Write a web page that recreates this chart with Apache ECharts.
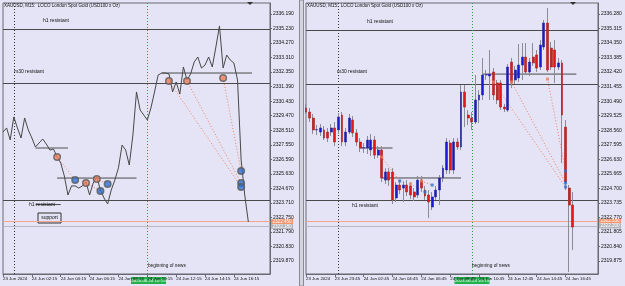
<!DOCTYPE html>
<html>
<head>
<meta charset="utf-8">
<script src="https://cdn.jsdelivr.net/npm/echarts@6/dist/echarts.min.js"></script>
<style>
  html, body { margin: 0; padding: 0; background: #e4e4f6; }
  #chart { width: 625px; height: 286px; }
</style>
</head>
<body>
<div id="chart"></div>
<script>
// Two MT4 screenshots of XAUUSD M15 side by side: close line (left), candles (right).

// ---- left panel: close line, one value per M15 bar ----
const LEFT_CLOSE = [
  2328.39, 2328.66, 2327.87, 2329.39, 2328.66, 2328.00, 2329.32, 2328.53, 2328.00, 2327.40,
  2327.67, 2327.93, 2327.60, 2327.20, 2327.27, 2326.74, 2326.35, 2325.49, 2324.23, 2324.83,
  2324.83, 2324.69, 2324.83, 2325.09, 2324.23, 2325.02, 2325.42, 2324.56, 2324.03, 2323.64,
  2324.56, 2325.22, 2326.02, 2327.53, 2327.20, 2326.21, 2328.20, 2331.04, 2329.85, 2329.52,
  2329.19, 2329.98, 2331.04, 2332.16, 2332.29, 2332.29, 2332.23, 2331.04, 2331.70, 2330.90,
  2332.69, 2331.83, 2332.23, 2333.02, 2333.35, 2332.62, 2332.82, 2333.35, 2332.69, 2334.01,
  2335.40, 2332.62, 2333.48, 2333.15, 2332.95, 2331.83, 2326.54, 2324.23, 2322.45,
];
const LEFT_BARS = 75;
const LEFT_PRICE_TICKS = [
  2319.870, 2320.830, 2321.790, 2322.750, 2323.710, 2324.670, 2325.630, 2326.590, 2327.550,
  2328.510, 2329.470, 2330.430, 2331.390, 2332.350, 2333.310, 2334.270, 2335.230, 2336.190,
];
const LEFT_TIME_LABELS = [
  [0, '23 Jun 2024'], [8, '24 Jun 02:15'], [16, '24 Jun 04:15'], [24, '24 Jun 06:15'],
  [32, '24 Jun 08:15'], [40, '24 Jun 10:15'], [48, '24 Jun 12:15'], [56, '24 Jun 14:15'],
  [64, '24 Jun 16:15'],
];
const LEFT_ORANGE = [[15, 2326.74], [23, 2325.02], [26, 2325.29], [46, 2331.76], [51, 2331.76], [61, 2331.96]];
const LEFT_BLUE = [[20, 2325.22], [27, 2324.50], [29, 2324.96], [66, 2325.82], [66, 2325.02], [66, 2324.76]];
const LEFT_SIGNAL_LINKS = [
  [[15, 2326.74], [20, 2325.22]], [[23, 2325.02], [27, 2324.50]], [[26, 2325.29], [29, 2324.96]],
  [[46, 2331.76], [66, 2324.76]], [[51, 2331.76], [66, 2325.02]], [[61, 2331.96], [66, 2325.82]],
];
const LEFT_FULL_LEVELS = [2335.20, 2331.63, 2323.90];
const LEFT_SEGMENTS = [[44, 69, 2332.29], [15, 37, 2325.35], [9, 16, 2323.60]];
const LEFT_SOFT_SEGMENT = [9, 18, 2327.34];
const LEFT_BID = 2322.48, LEFT_ASK = 2322.18;

// ---- right panel: candles [open, close, low, high] ----
const RIGHT_OHLC = [
  [2330.04, 2329.77, 2329.64, 2330.30], [2329.77, 2329.37, 2329.11, 2330.04],
  [2329.37, 2328.58, 2328.31, 2329.64], [2328.58, 2328.60, 2328.24, 2328.91],
  [2328.44, 2328.71, 2328.18, 2328.97], [2328.58, 2328.04, 2327.91, 2328.84],
  [2328.44, 2328.04, 2327.78, 2328.71], [2328.44, 2328.71, 2328.18, 2328.97],
  [2328.71, 2327.78, 2327.51, 2329.11], [2328.58, 2329.44, 2328.31, 2329.70],
  [2329.57, 2327.78, 2327.51, 2329.77], [2327.78, 2328.44, 2327.51, 2328.71],
  [2328.44, 2329.37, 2328.31, 2329.64], [2329.24, 2328.38, 2328.11, 2329.51],
  [2328.38, 2327.78, 2327.51, 2328.64], [2327.78, 2327.38, 2327.11, 2328.04],
  [2327.38, 2327.40, 2327.05, 2327.71], [2327.38, 2327.91, 2326.98, 2328.18],
  [2327.25, 2327.91, 2326.85, 2328.31], [2327.91, 2326.91, 2326.65, 2328.18],
  [2326.91, 2327.25, 2326.72, 2327.51], [2327.25, 2325.39, 2325.12, 2327.51],
  [2325.25, 2325.79, 2324.99, 2326.05], [2325.79, 2325.25, 2324.86, 2326.05],
  [2325.79, 2323.93, 2323.66, 2326.05], [2324.06, 2324.92, 2323.79, 2325.12],
  [2324.92, 2324.59, 2324.32, 2325.25], [2324.72, 2324.92, 2323.79, 2325.18],
  [2324.92, 2324.46, 2324.19, 2325.25], [2324.86, 2324.26, 2323.99, 2325.12],
  [2324.46, 2324.13, 2323.86, 2324.72], [2324.26, 2325.25, 2324.06, 2325.52],
  [2325.25, 2324.72, 2324.46, 2325.52], [2324.59, 2324.19, 2323.93, 2324.86],
  [2324.26, 2323.79, 2322.73, 2324.59], [2323.46, 2324.13, 2323.26, 2324.46],
  [2324.13, 2324.59, 2323.93, 2324.86], [2324.59, 2325.39, 2323.59, 2325.59],
  [2325.39, 2326.05, 2325.12, 2326.25], [2325.92, 2327.78, 2325.65, 2328.04],
  [2327.71, 2325.92, 2325.65, 2327.91], [2325.92, 2327.78, 2325.65, 2328.04],
  [2327.78, 2327.45, 2327.25, 2328.04], [2327.45, 2331.10, 2327.25, 2331.56],
  [2331.10, 2330.10, 2328.77, 2331.56], [2329.57, 2329.37, 2328.91, 2329.90],
  [2329.37, 2329.11, 2328.58, 2329.77], [2329.11, 2330.57, 2328.97, 2332.23],
  [2330.57, 2330.90, 2329.04, 2331.23], [2330.90, 2332.23, 2330.57, 2333.36],
  [2332.23, 2332.25, 2331.90, 2332.56], [2332.16, 2332.29, 2330.57, 2333.89],
  [2332.43, 2330.90, 2330.57, 2332.69], [2331.70, 2330.57, 2330.30, 2331.90],
  [2331.70, 2330.10, 2329.90, 2331.90], [2330.10, 2329.97, 2329.77, 2330.30],
  [2329.90, 2332.76, 2329.77, 2332.96], [2333.09, 2331.70, 2331.36, 2333.36],
  [2331.90, 2332.56, 2331.63, 2332.83], [2332.03, 2332.89, 2331.76, 2334.29],
  [2332.89, 2333.42, 2331.90, 2334.35], [2333.42, 2332.43, 2332.29, 2334.35],
  [2332.43, 2333.09, 2332.16, 2333.36], [2333.42, 2333.03, 2332.83, 2334.35],
  [2333.56, 2332.69, 2332.43, 2333.89], [2332.76, 2334.22, 2332.56, 2334.55],
  [2334.09, 2335.68, 2333.89, 2335.88], [2335.68, 2332.56, 2332.43, 2336.68],
  [2334.02, 2332.76, 2332.56, 2334.42], [2333.89, 2332.76, 2331.70, 2334.55],
  [2332.76, 2333.03, 2332.56, 2333.36], [2333.03, 2329.57, 2326.38, 2333.22],
  [2328.77, 2325.12, 2324.59, 2329.24], [2324.72, 2323.59, 2319.14, 2324.92],
  [2323.59, 2322.13, 2320.60, 2324.46],
];
const RIGHT_BARS = 82;
const RIGHT_PRICE_TICKS = [
  2319.875, 2320.840, 2321.805, 2322.770, 2323.735, 2324.700, 2325.665, 2326.630, 2327.595,
  2328.560, 2329.525, 2330.490, 2331.455, 2332.420, 2333.385, 2334.350, 2335.315, 2336.280,
];
const RIGHT_TIME_LABELS = [
  [0, '23 Jun 2024'], [8, '23 Jun 23:45'], [16, '24 Jun 02:45'], [24, '24 Jun 04:45'],
  [32, '24 Jun 06:45'], [40, '24 Jun 08:45'], [48, '24 Jun 10:45'], [56, '24 Jun 12:45'],
  [64, '24 Jun 14:45'], [72, '24 Jun 16:45'],
];
const RIGHT_ORANGE = [[21, 2326.78], [29, 2324.99], [32, 2325.19], [52, 2331.76], [57, 2331.76], [67, 2331.96]];
const RIGHT_BLUE = [[26, 2325.19], [33, 2324.46], [35, 2324.92], [72, 2325.85], [72, 2325.06], [72, 2324.79]];
const RIGHT_SIGNAL_LINKS = [
  [[21, 2326.78], [26, 2325.19]], [[29, 2324.99], [33, 2324.46]], [[32, 2325.19], [35, 2324.92]],
  [[52, 2331.76], [72, 2324.79]], [[57, 2331.76], [72, 2325.06]], [[67, 2331.96], [72, 2325.85]],
];
const RIGHT_FULL_LEVELS = [2335.22, 2331.63, 2323.93];
const RIGHT_SEGMENTS = [[49, 75, 2332.29], [15, 24, 2327.38], [21, 43, 2325.39]];
const RIGHT_BID = 2322.53, RIGHT_ASK = 2322.20;

const DAY_SEP = [3, 9];     // black dotted day separator (left index, right index)
const NEWS_BAR = [40, 46];  // green dotted "beginning of news"
const NEWS_TIME = '2024.06.24 10:15';
const TITLE = 'XAUUSD, M15:  LOCO London Spot Gold (USD100 x Oz)';

// ---- style ----
const BG = '#e4e4f6';
const FRAME = '#6a6a72';
const LEVEL = '#4a4a4a';
const FONT = 'Liberation Sans';
const ORANGE = '#f0805a';
const BLUE = '#2f6fd0';
const WICK = '#8c8c96';

const labelMap = list => new Map(list);

function xAxisFor(grid, n, labels) {
  const m = labelMap(labels);
  return {
    type: 'category', gridIndex: grid, boundaryGap: false,
    data: Array.from({ length: n }, (_, i) => String(i)),
    axisLine: { lineStyle: { color: FRAME, width: 1 } },
    axisTick: { show: true, interval: i => m.has(i), length: 3, lineStyle: { color: FRAME } },
    axisLabel: {
      interval: i => m.has(i), formatter: (v, i) => m.get(i) || '',
      align: 'left', margin: 3, fontSize: 4.4, fontFamily: FONT, color: '#111',
    },
    splitLine: { show: false },
  };
}

function yAxisFor(grid, min, max, ticks) {
  return {
    type: 'value', gridIndex: grid, position: 'right', min, max, scale: true,
    axisLine: { show: true, lineStyle: { color: FRAME, width: 1 } },
    axisTick: { show: true, customValues: ticks, length: 2, lineStyle: { color: FRAME } },
    axisLabel: {
      customValues: ticks, formatter: v => v.toFixed(3),
      margin: 3, fontSize: 5, fontFamily: FONT, color: '#111',
    },
    splitLine: { show: false },
  };
}

function segment(ax, a, b, price, color, width, type) {
  return {
    type: 'line', xAxisIndex: ax, yAxisIndex: ax, data: [[a, price], [b, price]],
    symbol: 'none', silent: true, animation: false, z: 3,
    lineStyle: { color, width, type: type || 'solid' },
  };
}

function links(ax, list) {
  return list.map(pair => ({
    type: 'line', xAxisIndex: ax, yAxisIndex: ax, data: pair, symbol: 'none',
    silent: true, animation: false, z: 4,
    lineStyle: { color: ORANGE, width: 1, type: [1, 2] },
  }));
}

function panelMarks(dayIdx, newsIdx, full, bid, ask) {
  return {
    symbol: 'none', silent: true, animation: false, label: { show: false },
    data: [
      ...full.map(v => ({ yAxis: v, lineStyle: { color: LEVEL, width: 1, type: 'solid' } })),
      { yAxis: bid, lineStyle: { color: '#f4a68c', width: 1, type: 'solid' } },
      { yAxis: ask, lineStyle: { color: '#b8b8c0', width: 1, type: 'solid' } },
      { xAxis: dayIdx, lineStyle: { color: '#333', width: 1, type: [1, 2] } },
      { xAxis: newsIdx, lineStyle: { color: '#2ea043', width: 1, type: [1, 2] } },
    ],
  };
}

function text(x, y, str, size) {
  return {
    type: 'text', x, y, z: 50,
    style: { text: str, fill: '#111', fontSize: size || 5, fontFamily: FONT, verticalAlign: 'middle' },
  };
}

function priceTag(x, y, str, fill) {
  return {
    type: 'group', x, y, z: 60, children: [
      { type: 'rect', shape: { x: 0, y: -2.5, width: 22, height: 5 }, style: { fill } },
      { type: 'text', style: { text: str, x: 1.5, y: 0, fill: '#fff', fontSize: 4.6, fontFamily: FONT, verticalAlign: 'middle' } },
    ],
  };
}

function newsBox(cx, y) {
  return {
    type: 'group', x: cx - 17.5, y, z: 60, children: [
      { type: 'rect', shape: { x: 0, y: 0, width: 35, height: 7 }, style: { fill: '#22b14c' } },
      { type: 'text', style: { text: NEWS_TIME, x: 17.5, y: 3.5, fill: '#fff', fontSize: 4.4, fontFamily: FONT, align: 'center', verticalAlign: 'middle' } },
    ],
  };
}

// candle bodies only: same open/close, low/high clamped to the body
const RIGHT_BODIES = RIGHT_OHLC.map(([o, c]) => [o, c, Math.min(o, c), Math.max(o, c)]);

const chart = echarts.init(document.getElementById('chart'), null, { renderer: 'canvas' });

chart.setOption({
  animation: false,
  backgroundColor: BG,
  grid: [
    { left: 3, top: 3, width: 267, height: 271, show: true, backgroundColor: BG, borderColor: FRAME, borderWidth: 1, outerBoundsMode: 'none' },
    { left: 306, top: 3, width: 292, height: 271, show: true, backgroundColor: BG, borderColor: FRAME, borderWidth: 1, outerBoundsMode: 'none' },
  ],
  xAxis: [xAxisFor(0, LEFT_BARS, LEFT_TIME_LABELS), xAxisFor(1, RIGHT_BARS, RIGHT_TIME_LABELS)],
  yAxis: [yAxisFor(0, 2319.011, 2336.917, LEFT_PRICE_TICKS), yAxisFor(1, 2319.012, 2337.011, RIGHT_PRICE_TICKS)],
  series: [
    {
      type: 'line', xAxisIndex: 0, yAxisIndex: 0, data: LEFT_CLOSE, symbol: 'none', z: 5,
      lineStyle: { color: '#484848', width: 1 },
      markLine: panelMarks(DAY_SEP[0], NEWS_BAR[0], LEFT_FULL_LEVELS, LEFT_BID, LEFT_ASK),
    },
    ...LEFT_SEGMENTS.map(s => segment(0, s[0], s[1], s[2], LEVEL, 1)),
    segment(0, LEFT_SOFT_SEGMENT[0], LEFT_SOFT_SEGMENT[1], LEFT_SOFT_SEGMENT[2], '#9a9aa2', 2),
    ...links(0, LEFT_SIGNAL_LINKS),
    {
      type: 'scatter', xAxisIndex: 0, yAxisIndex: 0, data: LEFT_ORANGE, symbol: 'circle', symbolSize: 6.5, z: 8,
      itemStyle: { color: ORANGE, borderColor: '#5a5a5a', borderWidth: 1.5 },
    },
    {
      type: 'scatter', xAxisIndex: 0, yAxisIndex: 0, data: LEFT_BLUE, symbol: 'circle', symbolSize: 6.5, z: 8,
      itemStyle: { color: BLUE, borderColor: '#5a5a5a', borderWidth: 1.5 },
    },
    {
      // wicks (gray), full high-low range
      type: 'candlestick', xAxisIndex: 1, yAxisIndex: 1, data: RIGHT_OHLC, barWidth: 1, z: 5,
      itemStyle: { color: WICK, color0: WICK, borderColor: WICK, borderColor0: WICK, borderWidth: 1 },
      markLine: panelMarks(DAY_SEP[1], NEWS_BAR[1], RIGHT_FULL_LEVELS, RIGHT_BID, RIGHT_ASK),
    },
    {
      // coloured bodies
      type: 'candlestick', xAxisIndex: 1, yAxisIndex: 1, data: RIGHT_BODIES, barWidth: 2.4, z: 6,
      itemStyle: { color: '#1818d8', color0: '#e41818', borderColor: '#2a2a9a', borderColor0: '#a82020', borderWidth: 0.6 },
    },
    ...RIGHT_SEGMENTS.map(s => segment(1, s[0], s[1], s[2], LEVEL, 1)),
    ...links(1, RIGHT_SIGNAL_LINKS),
    {
      type: 'scatter', xAxisIndex: 1, yAxisIndex: 1, data: RIGHT_ORANGE, symbol: 'rect', symbolSize: 3, z: 8,
      itemStyle: { color: ORANGE },
    },
    {
      type: 'scatter', xAxisIndex: 1, yAxisIndex: 1, data: RIGHT_BLUE, symbol: 'rect', symbolSize: 3, z: 8,
      itemStyle: { color: BLUE },
    },
  ],
  graphic: [
    // window chrome between the two panels
    { type: 'rect', z: 40, shape: { x: 299.5, y: 0, width: 4, height: 286 }, style: { fill: '#d4d4dc', stroke: '#8a8a92', lineWidth: 1 } },
    text(4, 6, TITLE, 4.5), text(307, 6, TITLE, 4.5),
    text(43, 21, 'h1 resistant'), text(14, 72, 'm30 resistant'), text(29, 205, 'h1 resistant'),
    text(367, 22, 'h1 resistant'), text(337, 72, 'm30 resistant'), text(352, 206, 'h1 resistant'),
    {
      type: 'group', x: 38, y: 213, z: 50, children: [
        { type: 'rect', shape: { x: 0, y: 0, width: 23, height: 10 }, style: { fill: BG, stroke: '#333', lineWidth: 1 } },
        { type: 'text', style: { text: 'support', x: 11.5, y: 5, fill: '#111', fontSize: 5, fontFamily: FONT, align: 'center', verticalAlign: 'middle' } },
      ],
    },
    text(148, 266, 'beginning of news', 4.7), text(472, 266, 'beginning of news', 4.7),
    newsBox(148.5, 277), newsBox(472, 277),
    priceTag(271, 221.5, '2322.450', '#f4946c'), priceTag(271, 226.5, '2322.180', '#b4b4bc'),
    priceTag(599, 221, '2322.530', '#f4946c'), priceTag(599, 226, '2322.200', '#b4b4bc'),
    { type: 'polygon', z: 50, shape: { points: [[247, 2], [253, 2], [250, 5]] }, style: { fill: '#333' } },
    { type: 'polygon', z: 50, shape: { points: [[570, 2], [576, 2], [573, 5]] }, style: { fill: '#333' } },
  ],
});
</script>
</body>
</html>
